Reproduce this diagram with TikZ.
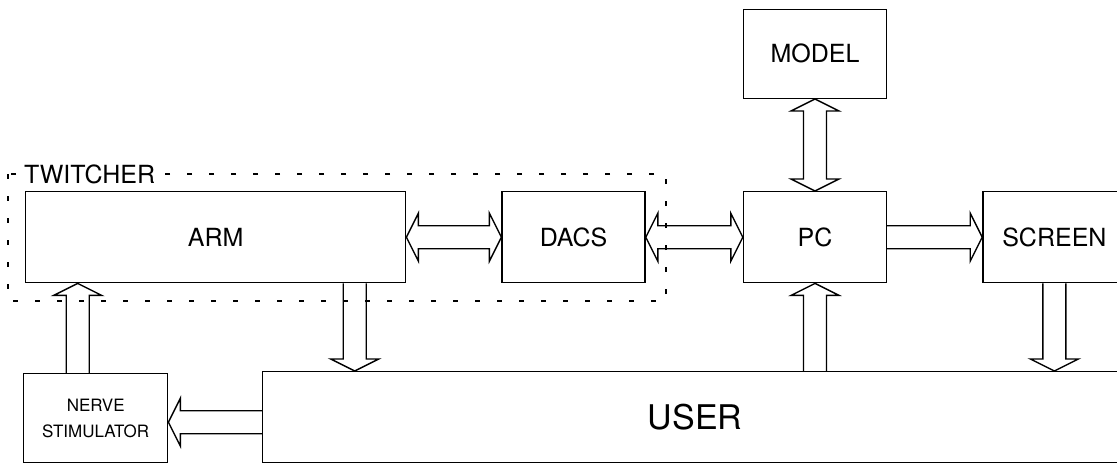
\documentclass[tikz,border=0pt]{standalone}
\usepackage{fontspec}
\setmainfont{TeX Gyre Heros}
\usetikzlibrary{calc, positioning}

\begin{document}
\begin{tikzpicture}[
    x=1pt, y=-1pt,
    every node/.style={font=\fontsize{25}{30}\selectfont},
    unit/.style={draw, line width=1.4pt, inner sep=0pt,
                 minimum width=143pt, minimum height=91pt},
    group/.style={draw, line width=1.4pt, dash pattern=on 5pt off 17pt},
    bigarrow/.style={line width=1.4pt, line join=miter, to path={
        ($(\tikztostart)!11.5pt!-90:(\tikztotarget)$)
        -- ($(\tikztotarget)!12pt!(\tikztostart)!11.5pt!90:(\tikztostart)$)
        -- ($(\tikztotarget)!12pt!(\tikztostart)!24pt!90:(\tikztostart)$)
        -- (\tikztotarget)
        -- ($(\tikztotarget)!12pt!(\tikztostart)!24pt!-90:(\tikztostart)$)
        -- ($(\tikztotarget)!12pt!(\tikztostart)!11.5pt!-90:(\tikztostart)$)
        -- ($(\tikztostart)!11.5pt!90:(\tikztotarget)$)}},
    dblarrow/.style={line width=1.4pt, line join=miter, to path={
        (\tikztostart)
        -- ($(\tikztostart)!12pt!(\tikztotarget)!24pt!-90:(\tikztotarget)$)
        -- ($(\tikztostart)!12pt!(\tikztotarget)!11.5pt!-90:(\tikztotarget)$)
        -- ($(\tikztotarget)!12pt!(\tikztostart)!11.5pt!90:(\tikztostart)$)
        -- ($(\tikztotarget)!12pt!(\tikztostart)!24pt!90:(\tikztostart)$)
        -- (\tikztotarget)
        -- ($(\tikztotarget)!12pt!(\tikztostart)!24pt!-90:(\tikztostart)$)
        -- ($(\tikztotarget)!12pt!(\tikztostart)!11.5pt!-90:(\tikztostart)$)
        -- ($(\tikztostart)!12pt!(\tikztotarget)!11.5pt!90:(\tikztotarget)$)
        -- ($(\tikztostart)!12pt!(\tikztotarget)!24pt!90:(\tikztotarget)$)
        -- (\tikztostart)}},
]
\useasboundingbox (0,0) rectangle (1117,464);

% twitcher frame round arm and dacs
\draw[group] (8,174) rectangle (666,301);
\node[fill=white, inner sep=2pt, anchor=west] (twlabel) at (22,174) {TWITCHER};

\node[unit, minimum width=380pt, anchor=north west] (arm) at (25,191) {ARM};
\node[unit, right=95pt of arm] (dacs) {DACS};
\node[unit, right=97pt of dacs] (pc) {PC};
\node[unit, right=95pt of pc] (screen) {SCREEN};
\node[unit, minimum height=89pt, above=92pt of pc] (model) {MODEL};
\node[unit, minimum width=865pt, anchor=north west,
      font=\fontsize{34}{40}\selectfont] (user) at (262,371) {USER};
\node[unit, minimum width=144pt, minimum height=89pt, anchor=north west,
      align=center, font=\fontsize{17}{26}\selectfont] (nerve) at (23,373)
     {NERVE\\STIMULATOR};

\coordinate (pcin) at (user.north -| pc.south);
\coordinate (scrin) at (user.north -| screen.south);
\coordinate (armout) at ([xshift=139pt]arm.south);
\coordinate (armdn) at (armout |- user.north);
\coordinate (nsup) at ([xshift=-18pt]nerve.north);
\coordinate (nsupend) at (nsup |- arm.south);
\coordinate (usrl) at ([yshift=-5pt]user.west);
\coordinate (nsin) at (usrl -| nerve.east);

\draw[dblarrow] (arm.east) to (dacs.west);
\draw[dblarrow] (dacs.east) to (pc.west);
\draw[dblarrow] (model.south) to (pc.north);
\draw[bigarrow] (pc.east) to (screen.west);
\draw[bigarrow] (pcin) to (pc.south);
\draw[bigarrow] (screen.south) to (scrin);
\draw[bigarrow] (armout) to (armdn);
\draw[bigarrow] (nsup) to (nsupend);
\draw[bigarrow] (usrl) to (nsin);
\end{tikzpicture}
\end{document}
